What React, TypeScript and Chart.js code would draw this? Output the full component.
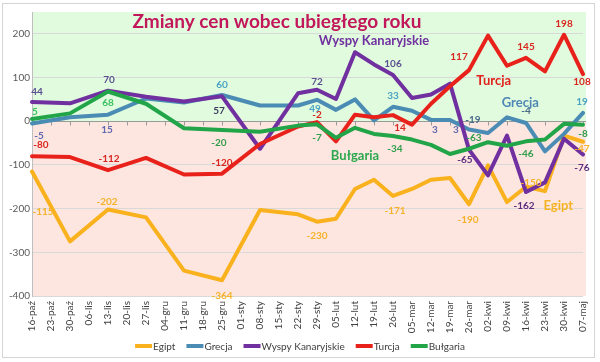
import React, { useEffect, useRef } from "react";
import { Chart, registerables } from "chart.js";

Chart.register(...registerables);

// ---------- data ----------
const categories = [
  "16-paź", "23-paź", "30-paź", "06-lis", "13-lis", "20-lis", "27-lis", "04-gru", "11-gru", "18-gru",
  "25-gru", "01-sty", "08-sty", "15-sty", "22-sty", "29-sty", "05-lut", "12-lut", "19-lut", "26-lut",
  "05-mar", "12-mar", "19-mar", "26-mar", "02-kwi", "09-kwi", "16-kwi", "23-kwi", "30-kwi", "07-maj",
];

const egipt = [-115, null, -275, null, -202, null, -220, null, -342, null, -364, null, -203, null, -213,
  -230, -223, -155, -134, -171, -155, -134, -130, -190, -101, -185, -150, -160, -33, -47];
const grecja = [-5, null, 9, null, 15, null, 52, null, 43, null, 60, null, 36, null, 36,
  49, 26, 50, 2, 33, 24, 3, 3, -19, -27, 9, -4, -69, -29, 19];
const wyspy = [44, null, 41, null, 70, null, 56, null, 45, null, 57, null, -63, null, 64,
  72, 51, 158, 130, 106, 53, 61, 86, -65, -124, -33, -162, -140, -40, -76];
const turcja = [-80, null, -82, null, -112, null, -84, null, -122, null, -120, null, -52, null, -12,
  -2, -46, 15, 9, 14, -8, 40, 80, 117, 196, 127, 145, 114, 198, 108];
const bulgaria = [5, null, 18, null, 68, null, 40, null, -16, null, -20, null, -24, null, -10,
  -7, -38, -15, -29, -34, -42, -54, -75, -63, -48, -56, -46, -42, -6, -8];

const seriesNames = ["Egipt", "Grecja", "Wyspy Kanaryjskie", "Turcja", "Bułgaria"];
const seriesColors = ["#f9b21d", "#4b8cb5", "#7030a0", "#e8211a", "#22a548"];

const yTickValues = [200, 100, 0, -100, -200, -300, -400];

// data labels: [category index, dx, dy, colour]
const egiptLabels: [number, number, number, string][] = [
  [0, 11, 40, "#f5b229"], [4, -1, -8, "#f5b229"], [10, 0, 16, "#f5b229"], [15, 0, 14, "#f5b229"],
  [19, 2, 15, "#f5b229"], [23, -1, 16, "#f5b229"], [26, 5, -4, "#f5b229"], [29, -1, 7, "#f5b229"],
];
const grecjaLabels: [number, number, number, string][] = [
  [0, 7, 12, "#6068b0"], [4, -1, 15, "#6068b0"], [10, 0, -10, "#4aa3c4"], [15, -2, 9, "#4aa3c4"],
  [19, 0, -11, "#4aa3c4"], [21, 4, 10, "#6068b0"], [22, 6, 10, "#6068b0"], [23, 4, -10, "#4a6a8a"],
  [26, 0, -12, "#4a6a8a"], [29, -1, -11, "#4aa3c4"],
];
const wyspyLabels: [number, number, number, string][] = [
  [0, 5, -10, "#5a4f90"], [4, 1, -11, "#5a4f90"], [10, -3, 14, "#3b3b5a"], [15, 0, -8, "#5a4f90"],
  [19, 0, -11, "#5a4f90"], [23, -4, 10, "#5c2d80"], [26, -2, 14, "#5c2d80"], [29, -1, 13, "#5c2d80"],
];
const turcjaLabels: [number, number, number, string][] = [
  [0, 9, -11, "#d8261e"], [4, 1, -11, "#d8261e"], [10, 0, -11, "#d8261e"], [15, 0, -7, "#d8261e"],
  [19, 7, 13, "#d8261e"], [23, -10, -13, "#d8261e"], [26, 0, -11, "#d8261e"], [28, 0, -11, "#d8261e"],
  [29, -1, 8, "#d8261e"],
];
const bulgariaLabels: [number, number, number, string][] = [
  [0, 3, -7, "#3cc060"], [4, 0, 11, "#3cc060"], [10, -3, 13, "#2f9e4c"], [15, 0, 13, "#2f9e4c"],
  [19, 2, 13, "#2f9e4c"], [23, 5, -11, "#2f9e4c"], [26, 0, 12, "#2f9e4c"], [29, 0, 9, "#2f9e4c"],
];

// series name annotations: [text, category index anchor, value anchor, colour]
const seriesAnnotations: [string, number, number, string][] = [
  ["Wyspy Kanaryjskie", 18, 185, "#7030a0"],
  ["Turcja", 24.3, 93, "#e0201a"],
  ["Grecja", 25.7, 43, "#4f87b5"],
  ["Bułgaria", 17, -80, "#2da84f"],
  ["Egipt", 27.7, -193, "#f5b324"],
];

const titleText = "Zmiany cen wobec ubiegłego roku";
const FONT = "Lato, 'Noto Sans', sans-serif";

export default function App() {
  const ref = useRef<HTMLCanvasElement | null>(null);

  useEffect(() => {
    document.body.style.margin = "0";
    const canvas = ref.current;
    if (!canvas) return;

    const allLabels = [egiptLabels, grecjaLabels, wyspyLabels, turcjaLabels, bulgariaLabels];
    const allData = [egipt, grecja, wyspy, turcja, bulgaria];

    const decor = {
      id: "decor",
      beforeDraw(chart: any) {
        const { ctx, chartArea: a, scales } = chart;
        const y0 = scales.y.getPixelForValue(0);
        ctx.save();
        ctx.fillStyle = "#ffffff";
        ctx.fillRect(0, 0, chart.width, chart.height);
        // outer frame
        ctx.strokeStyle = "#d4d4d4";
        ctx.lineWidth = 1;
        ctx.strokeRect(2.5, 3.5, 592, 354);
        // plot backgrounds
        ctx.fillStyle = "#e1fbde";
        ctx.fillRect(a.left, a.top, a.right - a.left + 3, y0 - a.top);
        ctx.fillStyle = "#fde6e0";
        ctx.fillRect(a.left, y0, a.right - a.left + 3, a.bottom - y0);
        ctx.restore();
      },
      beforeDatasetsDraw(chart: any) {
        const { ctx, chartArea: a, scales } = chart;
        const y0 = Math.round(scales.y.getPixelForValue(0)) + 0.5;
        ctx.save();
        ctx.strokeStyle = "#9a9a9a";
        ctx.lineWidth = 1;
        ctx.beginPath();
        ctx.moveTo(a.left, y0);
        ctx.lineTo(a.right + 3, y0);
        categories.forEach((_, i) => {
          const x = Math.round(scales.x.getPixelForValue(i)) + 0.5;
          ctx.moveTo(x, y0);
          ctx.lineTo(x, y0 + 4);
        });
        ctx.stroke();
        ctx.restore();
      },
      afterDraw(chart: any) {
        const { ctx, scales } = chart;
        ctx.save();
        // data labels
        ctx.font = `bold 10px ${FONT}`;
        ctx.textAlign = "center";
        ctx.textBaseline = "middle";
        allLabels.forEach((list, s) => {
          list.forEach(([i, dx, dy, color]) => {
            const v = allData[s][i] as number;
            const x = scales.x.getPixelForValue(i) + dx;
            const y = scales.y.getPixelForValue(v) + dy;
            ctx.fillStyle = color;
            ctx.fillText(String(v), x, y);
          });
        });
        // series names
        ctx.font = `bold 13px ${FONT}`;
        seriesAnnotations.forEach(([t, i, v, color]) => {
          ctx.fillStyle = color;
          ctx.fillText(t, scales.x.getPixelForValue(i), scales.y.getPixelForValue(v));
        });
        // title
        ctx.font = `bold 19px ${FONT}`;
        ctx.fillStyle = "#c2185b";
        ctx.fillText(titleText, 277, 22);
        // legend
        ctx.font = `10px ${FONT}`;
        ctx.textAlign = "left";
        const lineLen = 17;
        const gap = 11;
        const widths = seriesNames.map((n) => lineLen + 1 + ctx.measureText(n).width);
        const total = widths.reduce((p, c) => p + c, 0) + gap * (widths.length - 1);
        let x = 300 - total / 2;
        const ly = 346;
        seriesNames.forEach((n, k) => {
          ctx.strokeStyle = seriesColors[k];
          ctx.lineWidth = 4;
          ctx.beginPath();
          ctx.moveTo(x, ly);
          ctx.lineTo(x + lineLen, ly);
          ctx.stroke();
          ctx.fillStyle = "#404040";
          ctx.fillText(n, x + lineLen + 1, ly + 0.5);
          x += widths[k] + gap;
        });
        ctx.restore();
      },
    };

    const orders = [5, 4, 3, 2, 1];
    const chart = new Chart(canvas, {
      type: "line",
      data: {
        labels: categories,
        datasets: allData.map((d, k) => ({
          label: seriesNames[k],
          data: d,
          borderColor: seriesColors[k],
          backgroundColor: seriesColors[k],
          borderWidth: 4,
          pointRadius: 0,
          tension: 0,
          spanGaps: true,
          borderJoinStyle: "round" as const,
          borderCapStyle: "round" as const,
          order: orders[k],
        })),
      },
      options: {
        responsive: false,
        animation: false,
        layout: { padding: { left: 4, right: 12, top: 12, bottom: 26 } },
        plugins: { legend: { display: false }, tooltip: { enabled: false }, title: { display: false } },
        scales: {
          x: {
            grid: { display: false, drawTicks: false },
            border: { display: false },
            ticks: {
              autoSkip: false,
              maxRotation: 90,
              minRotation: 90,
              padding: 5,
              color: "#404040",
              font: { family: FONT, size: 10 },
            },
            afterFit: (s: any) => {
              s.height = 40;
            },
          },
          y: {
            min: -400,
            max: 250,
            ticks: {
              stepSize: 100,
              padding: 2,
              color: "#595959",
              font: { family: FONT, size: 10 },
            },
            grid: { color: "#d9d9d9", drawTicks: false },
            border: { display: true, color: "#bfbfbf" },
            afterBuildTicks: (s: any) => {
              s.ticks = yTickValues.slice().reverse().map((v) => ({ value: v }));
            },
            afterFit: (s: any) => {
              s.width = 28;
            },
          },
        },
      },
      plugins: [decor],
    });
    return () => chart.destroy();
  }, []);

  return <canvas ref={ref} width={600} height={362} style={{ display: "block" }} />;
}
